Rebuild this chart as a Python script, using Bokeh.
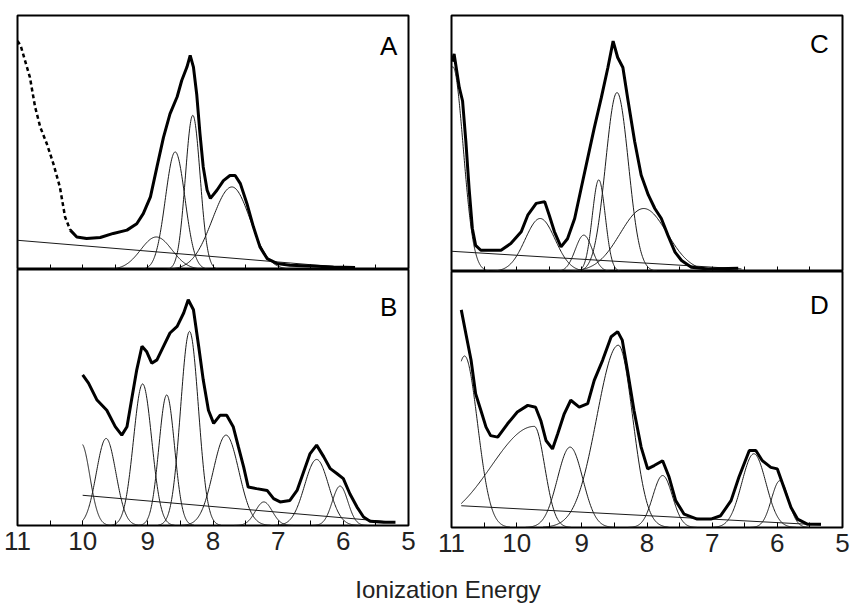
import numpy as np
from bokeh.plotting import figure
from bokeh.models import Range1d, FixedTicker, Label
from bokeh.layouts import row, column
from bokeh.embed import file_html
from bokeh.resources import INLINE

FONT = "Liberation Sans"

# ---------------- data (energies in eV, intensities in arbitrary units 0-100) ----------------
MAJOR_TICKS = [5, 6, 7, 8, 9, 10, 11]
MINOR_TICKS = [5.5, 6.5, 7.5, 8.5, 9.5, 10.5]

# Panel A
A_spec_x = [11.0, 10.95, 10.81, 10.73, 10.65, 10.55, 10.45, 10.35, 10.27, 10.19, 10.09, 9.94, 9.73,
            9.53, 9.32, 9.17, 9.07, 8.96, 8.86, 8.76, 8.66, 8.55, 8.48, 8.40, 8.35, 8.30, 8.25, 8.20,
            8.15, 8.09, 8.04, 7.94, 7.84, 7.74, 7.66, 7.58, 7.48, 7.38, 7.28, 7.17, 7.02, 6.82, 6.41,
            6.15, 5.82]
A_spec_y = [90, 88, 75.7, 64, 56, 49.5, 41.7, 32.5, 20.7, 15.5, 12.8, 12.2, 12.6,
            14.2, 15.5, 18, 22, 28.6, 40.4, 52, 61.3, 68, 74.4, 79.7, 84.3, 79.7, 69, 53.5,
            40.4, 31.2, 28, 31.2, 35, 37, 37, 33.8, 26, 16.8, 8.9, 4.3, 2.4, 1.7, 1.3,
            1.0, 0.8]
A_base_x = [11.0, 5.85]
A_base_y = [11.5, 0.5]
A_center = [8.87, 8.58, 8.31, 7.71]
A_height = [12.8, 46.3, 60.7, 32.5]
A_sig_l = [0.24, 0.15, 0.113, 0.30]
A_sig_r = [0.24, 0.15, 0.113, 0.28]

# Panel B
B_spec_x = [10.0, 9.91, 9.78, 9.63, 9.50, 9.40, 9.32, 9.25, 9.17, 9.09, 9.02, 8.94, 8.86, 8.76, 8.66,
            8.55, 8.45, 8.38, 8.30, 8.22, 8.15, 8.07, 7.99, 7.89, 7.79, 7.69, 7.61, 7.53, 7.46, 7.33,
            7.17, 7.07, 6.97, 6.82, 6.71, 6.61, 6.51, 6.41, 6.30, 6.20, 6.10, 6.00, 5.90, 5.79, 5.69,
            5.59, 5.38, 5.20]
B_spec_y = [58.8, 55.6, 49, 45, 38.6, 35.3, 38.6, 49, 60.8, 70, 68, 63.4, 64.7, 70, 75.2,
            77.8, 83, 88.2, 84.3, 70, 56.9, 45, 39.9, 43.1, 43.1, 38.6, 30.7, 22.9, 15, 14.4,
            13.7, 10.5, 9.2, 9.8, 13.7, 20.9, 28.1, 31.4, 26.8, 22.2, 20.3, 18.3, 12.4, 7.2, 3.3,
            1.7, 1.3, 1.3]
B_base_x = [10.0, 5.23]
B_base_y = [11.8, 1.3]
B_center = [10.02, 9.64, 9.08, 8.71, 8.36, 7.80, 7.22, 6.41, 6.05]
B_height = [32, 34, 55.3, 51, 75.8, 35.3, 9.2, 25.8, 15.4]
B_sig_l = [0.13, 0.15, 0.14, 0.12, 0.137, 0.196, 0.13, 0.185, 0.12]
B_sig_r = [0.13, 0.15, 0.14, 0.12, 0.137, 0.196, 0.13, 0.185, 0.12]

# Panel C
C_spec_x = [10.99, 10.96, 10.88, 10.83, 10.78, 10.73, 10.68, 10.63, 10.55, 10.45, 10.24, 10.09, 9.93,
            9.83, 9.70, 9.57, 9.50, 9.42, 9.32, 9.22, 9.11, 9.01, 8.91, 8.81, 8.70, 8.60, 8.52, 8.45,
            8.37, 8.29, 8.19, 8.09, 7.98, 7.88, 7.78, 7.68, 7.57, 7.47, 7.32, 7.06, 6.60]
C_spec_y = [82, 85, 71.8, 66.6, 50.9, 32.5, 16.8, 10.2, 8.3, 8.3, 8.3, 10.9, 15.5,
            22, 26.6, 27.3, 22, 15.5, 9.6, 12.8, 20.7, 32.5, 44.3, 56, 68, 79.7, 90, 83.6,
            79.7, 66.6, 50.9, 37.7, 29.9, 24.6, 20.7, 14.2, 7.6, 4.3, 1.7, 1.0, 1.3]
C_base_x = [11.0, 6.55]
C_base_y = [7.9, 1.0]
C_center = [10.98, 9.64, 8.97, 8.74, 8.46, 8.05]
C_height = [80, 20.7, 14.2, 35.8, 69.9, 24.6]
C_sig_l = [0.16, 0.23, 0.13, 0.10, 0.175, 0.36]
C_sig_r = [0.16, 0.23, 0.13, 0.10, 0.175, 0.36]

# Panel D
D_spec_x = [10.85, 10.78, 10.70, 10.63, 10.55, 10.47, 10.40, 10.29, 10.14, 9.99, 9.83, 9.71, 9.63,
            9.55, 9.45, 9.37, 9.27, 9.17, 9.04, 8.91, 8.81, 8.68, 8.55, 8.45, 8.38, 8.30, 8.20, 8.09,
            7.99, 7.89, 7.76, 7.66, 7.56, 7.43, 7.23, 7.02, 6.87, 6.71, 6.59, 6.43, 6.33, 6.23, 6.10,
            6.00, 5.90, 5.79, 5.69, 5.54, 5.33]
D_spec_y = [85, 75.8, 65.4, 52.3, 45.8, 39.2, 35.9, 35.3, 40.5, 45.1, 47.7, 47, 41.8,
            34, 30.7, 36.6, 44.4, 49.7, 47, 48.4, 57.5, 65.4, 74.5, 76.5, 73.2, 61.4, 45.8, 31.4,
            22.9, 24.2, 26.1, 19.6, 10.5, 5.2, 3.3, 3.3, 4.6, 10.5, 19.6, 30.1, 30.1, 26.1, 23.5,
            22.9, 15.7, 7.8, 3.3, 1.3, 1.3]
D_base_x = [10.85, 5.33]
D_base_y = [8.5, 1.0]
D_center = [10.80, 9.73, 9.18, 8.44, 7.76, 6.36, 5.96]
D_height = [67, 39.5, 31.4, 71.2, 20.3, 28.8, 18.3]
D_sig_l = [0.20, 0.66, 0.195, 0.33, 0.15, 0.185, 0.13]
D_sig_r = [0.20, 0.16, 0.195, 0.22, 0.15, 0.185, 0.13]


def component(c, h, sl, sr, xmax):
    hi = min(c + 3.5 * sl, xmax)
    lo = c - 3.5 * sr
    x = np.linspace(lo, hi, 160)
    s = np.where(x > c, sl, sr)
    y = h * np.exp(-((x - c) ** 2) / (2 * s ** 2))
    return x, y


def panel(spec_x, spec_y, base_x, base_y, cen, hgt, sl, sr, xmax, letter, lx, ly,
          w, h, mbl, mbr, mbt, mbb, labels, dash_until=None):
    p = figure(width=w, height=h,
               x_range=Range1d(11, 5), y_range=Range1d(0, 100),
               output_backend="svg", toolbar_location=None, y_axis_location=None,
               min_border_left=mbl, min_border_right=mbr, min_border_top=mbt,
               min_border_bottom=mbb)
    p.xgrid.visible = False
    p.ygrid.visible = False
    p.outline_line_color = "black"
    p.outline_line_width = 2
    p.background_fill_color = "white"
    p.border_fill_color = "white"
    ax = p.xaxis[0]
    ax.ticker = FixedTicker(ticks=MAJOR_TICKS, minor_ticks=MINOR_TICKS)
    ax.axis_line_color = None
    ax.major_tick_in = 5
    ax.major_tick_out = 0
    ax.minor_tick_in = 5
    ax.minor_tick_out = 0
    ax.major_tick_line_color = "black"
    ax.minor_tick_line_color = "black"
    ax.major_tick_line_width = 1
    ax.minor_tick_line_width = 1
    if labels:
        ax.major_label_text_font = FONT
        ax.major_label_text_font_size = "26px"
        ax.major_label_text_color = "#222222"
        ax.major_label_standoff = 6
    else:
        ax.major_label_text_font_size = "0px"
        ax.major_label_standoff = 0
        ax.major_label_overrides = {t: "" for t in MAJOR_TICKS}

    # fitted components
    for c, hh, a, b in zip(cen, hgt, sl, sr):
        x, y = component(c, hh, a, b, xmax)
        p.line(x, y, line_color="#1a1a1a", line_width=1)
    # baseline
    p.line(base_x, base_y, line_color="#1a1a1a", line_width=1)
    # measured spectrum
    if dash_until is not None:
        p.line(spec_x[:dash_until + 1], spec_y[:dash_until + 1], line_color="black",
               line_width=2.5, line_dash="4 3")
        p.line(spec_x[dash_until:], spec_y[dash_until:], line_color="black", line_width=3)
    else:
        p.line(spec_x, spec_y, line_color="black", line_width=3)

    p.add_layout(Label(x=lx, y=ly, text=letter, text_align="right",
                       text_baseline="alphabetic", text_font=FONT,
                       text_font_size="26px", text_color="black"))
    return p


pA = panel(A_spec_x, A_spec_y, A_base_x, A_base_y, A_center, A_height, A_sig_l, A_sig_r, 11.0,
           "A", 5.17, 87.8, 429, 269, 17, 21, 15, 0, False, dash_until=9)
pB = panel(B_spec_x, B_spec_y, B_base_x, B_base_y, B_center, B_height, B_sig_l, B_sig_r, 10.0,
           "B", 5.17, 85.5, 429, 296, 17, 21, 0, 40, True)
pC = panel(C_spec_x, C_spec_y, C_base_x, C_base_y, C_center, C_height, C_sig_l, C_sig_r, 11.0,
           "C", 5.21, 89.0, 422, 271, 22, 9, 15, 0, False)
pD = panel(D_spec_x, D_spec_y, D_base_x, D_base_y, D_center, D_height, D_sig_l, D_sig_r, 10.85,
           "D", 5.21, 87.1, 422, 296, 22, 9, 0, 40, True)

lab = figure(width=851, height=38, output_backend="svg", toolbar_location=None,
             x_axis_location=None, y_axis_location=None, min_border=0,
             x_range=Range1d(0, 1), y_range=Range1d(0, 1))
lab.outline_line_color = None
lab.xgrid.visible = False
lab.ygrid.visible = False
lab.add_layout(Label(x=447.5, y=16, x_units="screen", y_units="screen",
                     text="Ionization Energy", text_align="center",
                     text_baseline="alphabetic", text_font=FONT,
                     text_font_size="24px", text_color="#222222"))

layout = column(row(column(pA, pB, spacing=0), column(pC, pD, spacing=0), spacing=0), lab,
                spacing=0)

open("out.html", "w").write(file_html(layout, INLINE))
